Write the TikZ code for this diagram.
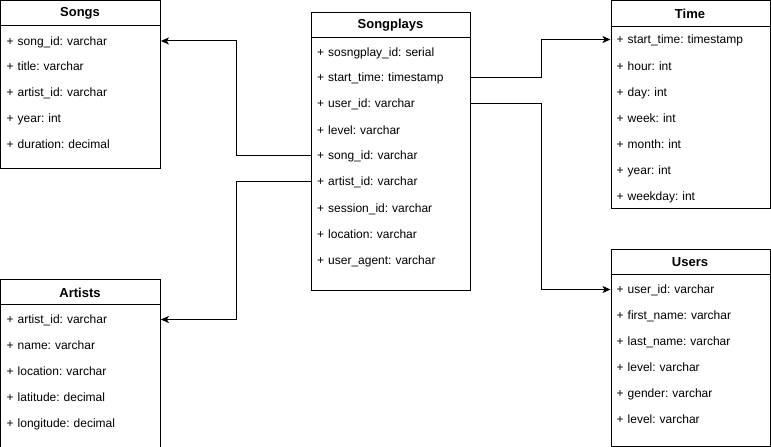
\documentclass[tikz,border=0pt]{standalone}
\usepackage{fontspec}
\setmainfont{Liberation Sans}
\frenchspacing
\usetikzlibrary{arrows.meta}
\tikzset{
  x=1bp, y=-1bp,
  box/.style={draw, line width=1bp, anchor=north west, inner sep=0pt},
  hdr/.style={font=\fontsize{13bp}{15bp}\selectfont\bfseries, inner sep=0pt},
  row/.style={anchor=west, text width=148bp, inner xsep=6bp, inner ysep=0pt, align=left,
    text height=10.5bp, text depth=1.5bp,
    font=\fontsize{12bp}{14bp}\selectfont\frenchspacing},
  conn/.style={line width=1bp, -{Stealth[length=8bp,width=7bp,inset=2bp]}}
}
\begin{document}
\begin{tikzpicture}
\useasboundingbox (0,0) rectangle (771,447);
% Songs
\node[box, minimum width=159.5bp, minimum height=167.5bp] (songs) at (0.5,0.5) {};
\draw[line width=1bp] (0.5,26) -- (160,26);
\node[hdr] (songs-h) at (80,13.5) {Songs};
\node[row] (songs-1) at (0.5,41) {+ song\_id: varchar};
\node[row] (songs-2) at (0.5,66) {+ title: varchar};
\node[row] (songs-3) at (0.5,92) {+ artist\_id: varchar};
\node[row] (songs-4) at (0.5,118) {+ year: int};
\node[row] (songs-5) at (0.5,144) {+ duration: decimal};
% Artists
\node[box, minimum width=159.5bp, minimum height=167bp] (artists) at (0.5,279.5) {};
\draw[line width=1bp] (0.5,305) -- (160,305);
\node[hdr] (artists-h) at (80,292.5) {Artists};
\node[row] (artists-1) at (0.5,319.5) {+ artist\_id: varchar};
\node[row] (artists-2) at (0.5,345) {+ name: varchar};
\node[row] (artists-3) at (0.5,371) {+ location: varchar};
\node[row] (artists-4) at (0.5,397) {+ latitude: decimal};
\node[row] (artists-5) at (0.5,423) {+ longitude: decimal};
% Songplays
\node[box, minimum width=159bp, minimum height=277bp] (sp) at (311,12.5) {};
\draw[line width=1bp] (311,37.5) -- (470,37.5);
\node[hdr] (sp-h) at (390.5,25) {Songplays};
\node[row] (sp-1) at (311,52) {+ sosngplay\_id: serial};
\node[row] (sp-2) at (311,77.5) {+ start\_time: timestamp};
\node[row] (sp-3) at (311,103.5) {+ user\_id: varchar};
\node[row] (sp-4) at (311,130) {+ level: varchar};
\node[row] (sp-5) at (311,155.5) {+ song\_id: varchar};
\node[row] (sp-6) at (311,181.5) {+ artist\_id: varchar};
\node[row] (sp-7) at (311,208) {+ session\_id: varchar};
\node[row] (sp-8) at (311,234) {+ location: varchar};
\node[row] (sp-9) at (311,260) {+ user\_agent: varchar};
% Time
\node[box, minimum width=159.5bp, minimum height=207.5bp] (time) at (610.5,0.5) {};
\draw[line width=1bp] (610.5,26.5) -- (770,26.5);
\node[hdr] (time-h) at (690,14) {Time};
\node[row] (time-1) at (610.5,39.5) {+ start\_time: timestamp};
\node[row] (time-2) at (610.5,66) {+ hour: int};
\node[row] (time-3) at (610.5,92) {+ day: int};
\node[row] (time-4) at (610.5,118) {+ week: int};
\node[row] (time-5) at (610.5,144) {+ month: int};
\node[row] (time-6) at (610.5,170) {+ year: int};
\node[row] (time-7) at (610.5,196) {+ weekday: int};
% Users
\node[box, minimum width=159.5bp, minimum height=196.5bp] (users) at (610.5,249.5) {};
\draw[line width=1bp] (610.5,275) -- (770,275);
\node[hdr] (users-h) at (690,262.5) {Users};
\node[row] (users-1) at (610.5,289.5) {+ user\_id: varchar};
\node[row] (users-2) at (610.5,315) {+ first\_name: varchar};
\node[row] (users-3) at (610.5,341) {+ last\_name: varchar};
\node[row] (users-4) at (610.5,367) {+ level: varchar};
\node[row] (users-5) at (610.5,393) {+ gender: varchar};
\node[row] (users-6) at (610.5,419) {+ level: varchar};
% Connectors
\draw[conn] (sp-5.west) -- ++(-75,0) |- (songs-1.east);
\draw[conn] (sp-6.west) -- ++(-75,0) |- (artists-1.east);
\draw[conn] (sp-2.east) -- ++(70,0) |- (time-1.west);
\draw[conn] (sp-3.east) -- ++(70,0) |- (users-1.west);
\end{tikzpicture}
\end{document}
